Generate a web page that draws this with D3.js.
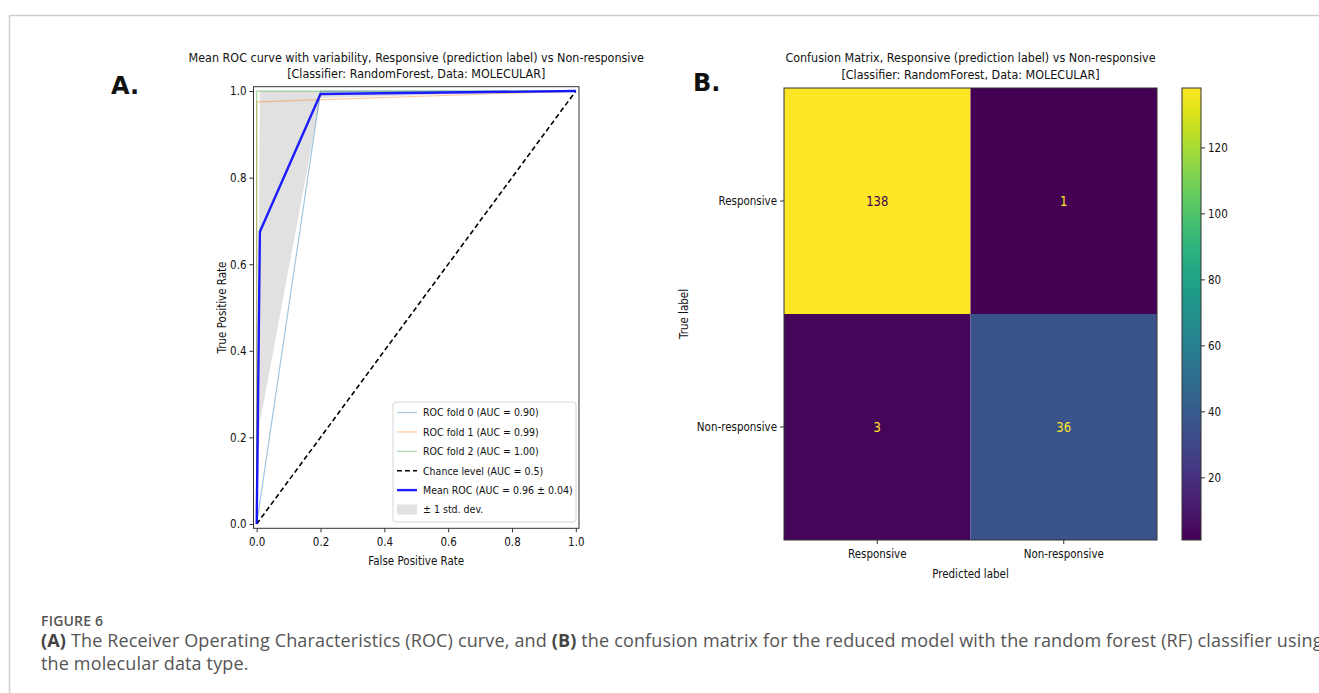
<!DOCTYPE html>
<html>
<head>
<meta charset="utf-8">
<script src="https://cdn.jsdelivr.net/npm/d3@7"></script>
<style>
  body { margin: 0; background: #fff; }
  svg text { font-family: "DejaVu Sans", sans-serif; fill: #111; }
  .caption text { font-family: "Open Sans", sans-serif; fill: #555; }
</style>
</head>
<body>
<svg id="chart" width="1319" height="693"></svg>
<script>
// ---- data ----
const rocTicks = [0, 0.2, 0.4, 0.6, 0.8, 1.0];

const fold0Fpr = [0, 0.2, 1];
const fold0Tpr = [0, 1, 1];
const fold1Fpr = [0, 0, 1];
const fold1Tpr = [0, 0.975, 1];
const fold2Fpr = [0, 0, 1];
const fold2Tpr = [0, 1, 1];

const meanFpr = [0, 0.01, 0.2, 1];
const meanTpr = [0, 0.675, 0.993, 1];
const stdLower = [0, 0.233, 0.984, 1];
const stdUpper = [0, 1, 1, 1];

const legendLabels = [
  "ROC fold 0 (AUC = 0.90)",
  "ROC fold 1 (AUC = 0.99)",
  "ROC fold 2 (AUC = 1.00)",
  "Chance level (AUC = 0.5)",
  "Mean ROC (AUC = 0.96 \u00b1 0.04)",
  "\u00b1 1 std. dev."
];

const classes = ["Responsive", "Non-responsive"];
const matrix = [[138, 1], [3, 36]];
const cbarTicks = [20, 40, 60, 80, 100, 120];

const svg = d3.select("#chart");

// page frame
svg.append("path")
  .attr("d", "M9.5,693 V15.5 H1319")
  .attr("fill", "none")
  .attr("stroke", "#cfcfcf")
  .attr("stroke-width", 1.5);

const squish = 0.86;
function narrow(sel) {
  sel.each(function() {
    const w = this.getComputedTextLength();
    d3.select(this).attr("textLength", w * squish).attr("lengthAdjust", "spacingAndGlyphs");
  });
}

// ---------- A. ROC ----------
const roc = { left: 253.5, right: 579, top: 86.7, bottom: 528.3 };
const x = d3.scaleLinear().domain([-0.01, 1.01]).range([roc.left, roc.right]);
const y = d3.scaleLinear().domain([-0.01, 1.01]).range([roc.bottom, roc.top]);

const gA = svg.append("g");

const line = d3.line().x(d => x(d[0])).y(d => y(d[1]));
const zip = (a, b) => a.map((v, i) => [v, b[i]]);

gA.append("path")
  .datum(meanFpr.map((v, i) => [v, stdLower[i], stdUpper[i]]))
  .attr("d", d3.area().x(d => x(d[0])).y0(d => y(d[1])).y1(d => y(d[2])))
  .attr("fill", "#808080")
  .attr("fill-opacity", 0.24);

const foldColors = ["#1f77b4", "#ff7f0e", "#2ca02c"];
[[fold0Fpr, fold0Tpr], [fold1Fpr, fold1Tpr], [fold2Fpr, fold2Tpr]].forEach((f, i) => {
  gA.append("path")
    .datum(zip(f[0], f[1]))
    .attr("d", line)
    .attr("fill", "none")
    .attr("stroke", foldColors[i])
    .attr("stroke-opacity", 0.42)
    .attr("stroke-width", 1.2);
});

gA.append("path")
  .datum([[0, 0], [1, 1]])
  .attr("d", line)
  .attr("fill", "none")
  .attr("stroke", "#000")
  .attr("stroke-width", 1.6)
  .attr("stroke-dasharray", "5,3");

gA.append("path")
  .datum(zip(meanFpr, meanTpr))
  .attr("d", line)
  .attr("fill", "none")
  .attr("stroke", "#0000ff")
  .attr("stroke-opacity", 0.88)
  .attr("stroke-width", 2.4);

gA.append("rect")
  .attr("x", roc.left).attr("y", roc.top)
  .attr("width", roc.right - roc.left).attr("height", roc.bottom - roc.top)
  .attr("fill", "none").attr("stroke", "#333").attr("stroke-width", 1);

const xAxis = gA.append("g")
  .attr("transform", `translate(0,${roc.bottom})`)
  .call(d3.axisBottom(x).tickValues(rocTicks).tickFormat(d3.format(".1f")).tickSize(4).tickSizeOuter(0));
const yAxis = gA.append("g")
  .attr("transform", `translate(${roc.left},0)`)
  .call(d3.axisLeft(y).tickValues(rocTicks).tickFormat(d3.format(".1f")).tickSize(4).tickSizeOuter(0));
[xAxis, yAxis].forEach(a => {
  a.select(".domain").remove();
  a.selectAll("line").attr("stroke", "#333");
  a.selectAll("text").style("font-size", "12px").attr("fill", "#111");
});
xAxis.selectAll("text").attr("dy", "0.9em");
narrow(xAxis.selectAll("text"));
narrow(yAxis.selectAll("text"));

gA.append("text")
  .attr("x", (roc.left + roc.right) / 2).attr("y", 565)
  .attr("text-anchor", "middle").style("font-size", "12px")
  .text("False Positive Rate").call(narrow);
gA.append("text")
  .attr("transform", `translate(226,${(roc.top + roc.bottom) / 2}) rotate(-90)`)
  .attr("text-anchor", "middle").style("font-size", "12px")
  .text("True Positive Rate").call(narrow);

gA.append("text")
  .attr("x", (roc.left + roc.right) / 2).attr("y", 62)
  .attr("text-anchor", "middle").style("font-size", "13px")
  .text("Mean ROC curve with variability, Responsive (prediction label) vs Non-responsive").call(narrow);
gA.append("text")
  .attr("x", (roc.left + roc.right) / 2).attr("y", 78)
  .attr("text-anchor", "middle").style("font-size", "13px")
  .text("[Classifier: RandomForest, Data: MOLECULAR]").call(narrow);

// legend
const leg = gA.append("g").attr("transform", "translate(393,402)");
leg.append("rect")
  .attr("width", 183).attr("height", 120).attr("rx", 3)
  .attr("fill", "#fff").attr("fill-opacity", 0.85)
  .attr("stroke", "#d6d6d6");
const legendStyles = [
  { c: foldColors[0], o: 0.42, w: 1.2 },
  { c: foldColors[1], o: 0.42, w: 1.2 },
  { c: foldColors[2], o: 0.42, w: 1.2 },
  { c: "#000", o: 1, w: 1.6, dash: "5,3" },
  { c: "#0000ff", o: 0.88, w: 2.4 },
  { patch: true }
];
legendLabels.forEach((lab, i) => {
  const ly = 10.5 + i * 19.4;
  const s = legendStyles[i];
  if (s.patch) {
    leg.append("rect").attr("x", 4).attr("y", ly - 5).attr("width", 20).attr("height", 10)
      .attr("fill", "#808080").attr("fill-opacity", 0.24);
  } else {
    leg.append("line").attr("x1", 4).attr("x2", 24).attr("y1", ly).attr("y2", ly)
      .attr("stroke", s.c).attr("stroke-opacity", s.o).attr("stroke-width", s.w)
      .attr("stroke-dasharray", s.dash || null);
  }
  leg.append("text").attr("x", 30).attr("y", ly).attr("dy", "0.35em")
    .style("font-size", "11px").text(lab).call(narrow);
});

svg.append("text").attr("x", 111).attr("y", 94)
  .style("font-size", "24px").style("font-weight", "bold").text("A.");

// ---------- B. Confusion matrix ----------
const cm = { left: 784, right: 1157, top: 88, bottom: 540 };
const cx = d3.scaleBand().domain(classes).range([cm.left, cm.right]);
const cy = d3.scaleBand().domain(classes).range([cm.top, cm.bottom]);
const vmin = d3.min(matrix.flat()), vmax = d3.max(matrix.flat());
const color = d3.scaleSequential(d3.interpolateViridis).domain([vmin, vmax]);

const gB = svg.append("g");
const cells = matrix.flatMap((row, i) => row.map((v, j) => ({ r: classes[i], c: classes[j], v })));
gB.selectAll("rect.cell").data(cells).enter().append("rect")
  .attr("class", "cell")
  .attr("x", d => cx(d.c)).attr("y", d => cy(d.r))
  .attr("width", cx.bandwidth()).attr("height", cy.bandwidth())
  .attr("fill", d => color(d.v));
gB.selectAll("text.val").data(cells).enter().append("text")
  .attr("class", "val")
  .attr("x", d => cx(d.c) + cx.bandwidth() / 2)
  .attr("y", d => cy(d.r) + cy.bandwidth() / 2)
  .attr("dy", "0.35em").attr("text-anchor", "middle")
  .style("font-size", "13.5px")
  .style("fill", d => d.v > (vmin + vmax) / 2 ? color(vmin) : color(vmax))
  .text(d => d.v).call(narrow);
gB.append("rect")
  .attr("x", cm.left).attr("y", cm.top)
  .attr("width", cm.right - cm.left).attr("height", cm.bottom - cm.top)
  .attr("fill", "none").attr("stroke", "#333");

const bx = gB.append("g").attr("transform", `translate(0,${cm.bottom})`)
  .call(d3.axisBottom(cx).tickSize(4).tickSizeOuter(0));
const by = gB.append("g").attr("transform", `translate(${cm.left},0)`)
  .call(d3.axisLeft(cy).tickSize(4).tickSizeOuter(0));
[bx, by].forEach(a => {
  a.select(".domain").remove();
  a.selectAll("line").attr("stroke", "#333");
  a.selectAll("text").style("font-size", "12px").attr("fill", "#111");
});
bx.selectAll("text").attr("dy", "0.9em");
narrow(bx.selectAll("text"));
narrow(by.selectAll("text"));

gB.append("text")
  .attr("x", (cm.left + cm.right) / 2).attr("y", 578)
  .attr("text-anchor", "middle").style("font-size", "12px")
  .text("Predicted label").call(narrow);
gB.append("text")
  .attr("transform", `translate(688,${(cm.top + cm.bottom) / 2}) rotate(-90)`)
  .attr("text-anchor", "middle").style("font-size", "12px")
  .text("True label").call(narrow);
gB.append("text")
  .attr("x", (cm.left + cm.right) / 2).attr("y", 62)
  .attr("text-anchor", "middle").style("font-size", "13px")
  .text("Confusion Matrix, Responsive (prediction label) vs Non-responsive").call(narrow);
gB.append("text")
  .attr("x", (cm.left + cm.right) / 2).attr("y", 79)
  .attr("text-anchor", "middle").style("font-size", "13px")
  .text("[Classifier: RandomForest, Data: MOLECULAR]").call(narrow);

svg.append("text").attr("x", 693).attr("y", 91)
  .style("font-size", "24px").style("font-weight", "bold").text("B.");

// colorbar
const cb = { left: 1182, right: 1201 };
const cScale = d3.scaleLinear().domain([vmin, vmax]).range([cm.bottom, cm.top]);
const grad = svg.append("defs").append("linearGradient")
  .attr("id", "viridis").attr("x1", 0).attr("x2", 0).attr("y1", 1).attr("y2", 0);
d3.range(0, 1.0001, 0.05).forEach(t => {
  grad.append("stop").attr("offset", t).attr("stop-color", d3.interpolateViridis(t));
});
gB.append("rect")
  .attr("x", cb.left).attr("y", cm.top)
  .attr("width", cb.right - cb.left).attr("height", cm.bottom - cm.top)
  .attr("fill", "url(#viridis)").attr("stroke", "#333");
const cbAxis = gB.append("g").attr("transform", `translate(${cb.right},0)`)
  .call(d3.axisRight(cScale).tickValues(cbarTicks).tickSize(4).tickSizeOuter(0));
cbAxis.select(".domain").remove();
cbAxis.selectAll("line").attr("stroke", "#333");
cbAxis.selectAll("text").style("font-size", "12px").attr("fill", "#111");
narrow(cbAxis.selectAll("text"));

// ---------- caption ----------
const cap = svg.append("g").attr("class", "caption");
cap.append("text").attr("x", 41).attr("y", 626)
  .style("font-size", "14px").style("font-weight", 600).style("letter-spacing", "0.2px")
  .text("FIGURE 6");
const line1 = cap.append("text").attr("x", 41).attr("y", 647)
  .style("font-size", "18px").style("letter-spacing", "0.15px");
line1.append("tspan").style("font-weight", "bold").style("fill", "#444").text("(A)");
line1.append("tspan").text(" The Receiver Operating Characteristics (ROC) curve, and ");
line1.append("tspan").style("font-weight", "bold").style("fill", "#444").text("(B)");
line1.append("tspan").text(" the confusion matrix for the reduced model with the random forest (RF) classifier using");
cap.append("text").attr("x", 41).attr("y", 670)
  .style("font-size", "18px").style("letter-spacing", "0.15px")
  .text("the molecular data type.");
</script>
</body>
</html>
